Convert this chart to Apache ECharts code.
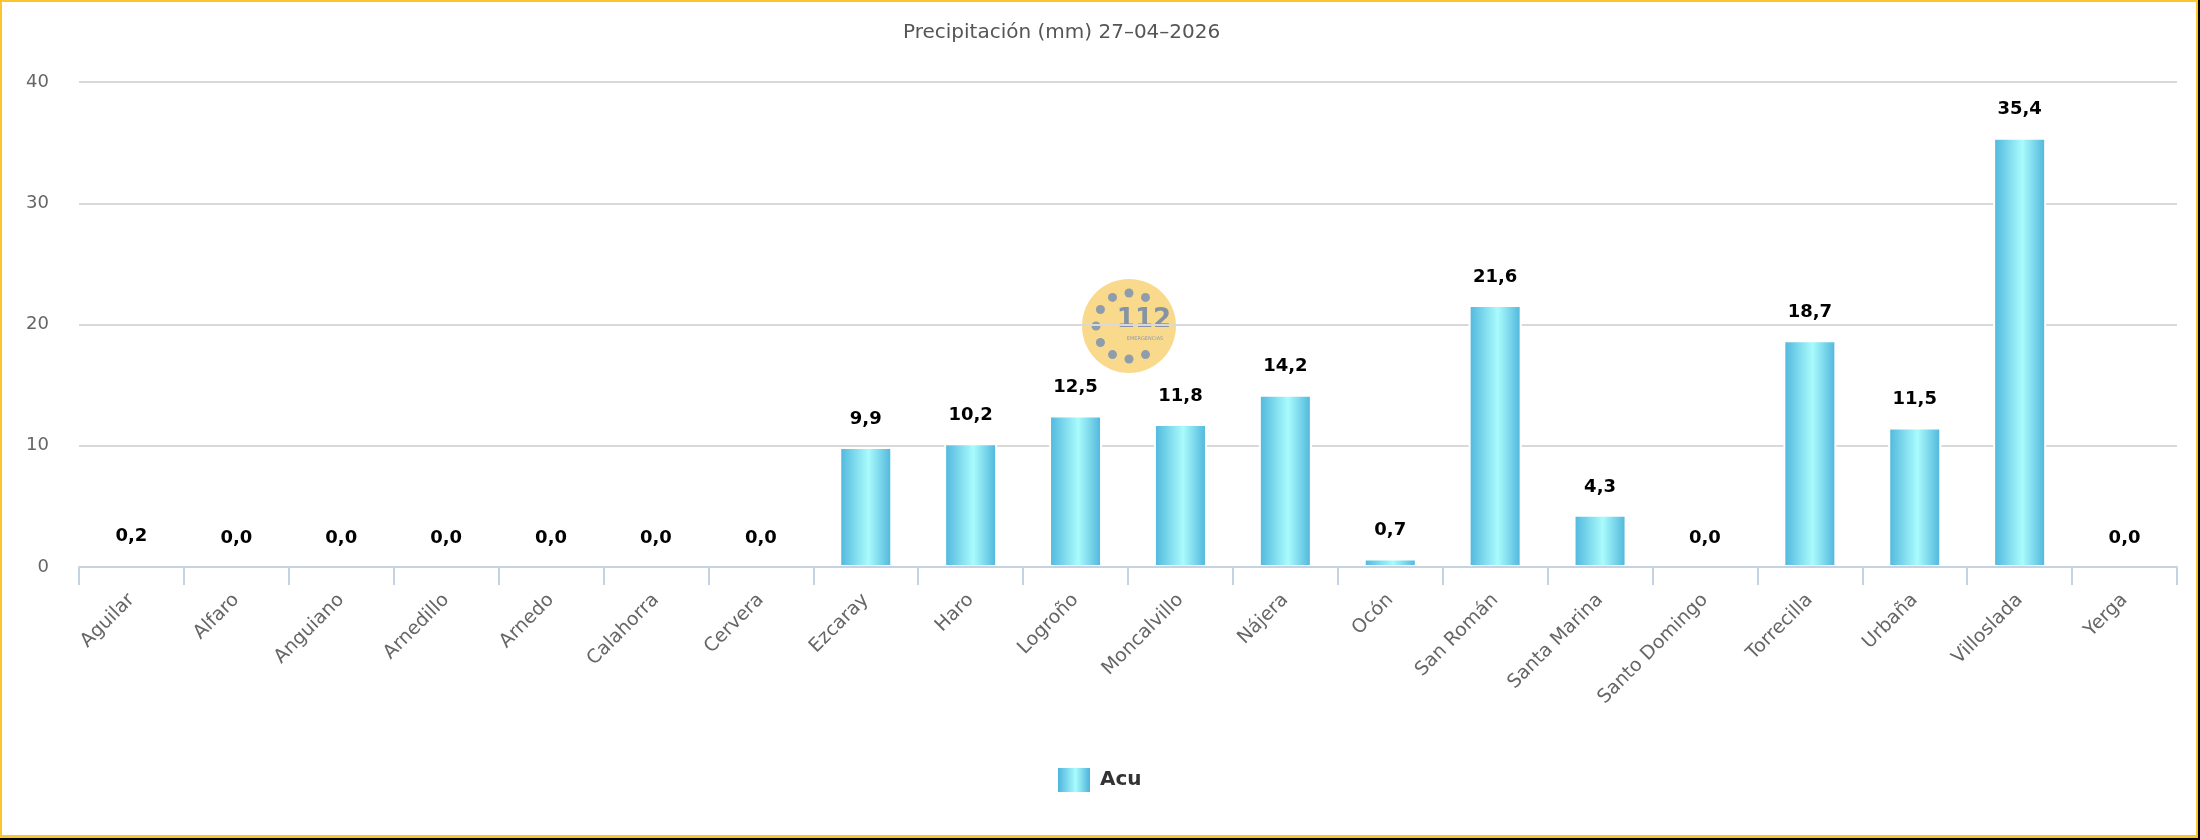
<!DOCTYPE html>
<html>
<head>
<meta charset="utf-8">
<script src="https://cdn.jsdelivr.net/npm/echarts@6/dist/echarts.min.js"></script>
<style>
    html, body { margin: 0; padding: 0; background: #000; }
    #precip-bar-chart {
        position: absolute; left: 0; top: 0;
        width: 2198px; height: 838px;
        box-sizing: border-box;
        border: 2px solid #fcc52d;
        border-bottom-width: 3px;
        background: #fff;
    }
</style>
</head>
<body>
<div id="precip-bar-chart"></div>
<script>
// datos de precipitación por estación
const stations = ['Aguilar', 'Alfaro', 'Anguiano', 'Arnedillo', 'Arnedo', 'Calahorra', 'Cervera',
    'Ezcaray', 'Haro', 'Logroño', 'Moncalvillo', 'Nájera', 'Ocón', 'San Román', 'Santa Marina',
    'Santo Domingo', 'Torrecilla', 'Urbaña', 'Villoslada', 'Yerga'];
const acuValues = [0.2, 0.0, 0.0, 0.0, 0.0, 0.0, 0.0, 9.9, 10.2, 12.5, 11.8, 14.2, 0.7, 21.6, 4.3,
    0.0, 18.7, 11.5, 35.4, 0.0];
const yTicks = [0, 10, 20, 30, 40];

const precipChart = echarts.init(document.getElementById('precip-bar-chart'));

const FONT = 'DejaVu Sans';

const barColor = new echarts.graphic.LinearGradient(0, 0, 1, 0, [
    {offset: 0, color: '#4db5dc'},
    {offset: 0.55, color: '#a9fbfc'},
    {offset: 1, color: '#4cb3da'}
]);

// logo 112 de fondo (marca de agua)
const logoX = 1127, logoY = 324;
const logoParts = [{
    type: 'circle',
    shape: {cx: logoX, cy: logoY, r: 47},
    style: {fill: '#f9da8d'},
    z: -10
}];
[-90, -120, -60, -150, 180, 150, 120, 90, 60].forEach(function (a) {
    const rad = a * Math.PI / 180;
    logoParts.push({
        type: 'circle',
        shape: {cx: logoX + 33 * Math.cos(rad), cy: logoY + 33 * Math.sin(rad), r: 4.5},
        style: {fill: '#8f9cab'},
        z: -9
    });
});
logoParts.push({
    type: 'text', x: logoX + 15, y: logoY - 6, z: -9,
    style: {text: '112', fill: '#8593a3', font: 'bold 26px ' + FONT, align: 'center', verticalAlign: 'middle'}
});
logoParts.push({
    type: 'text', x: logoX + 16, y: logoY + 13, z: -9,
    style: {text: 'EMERGENCIAS', fill: '#8f9cab', font: '5px ' + FONT, align: 'center', verticalAlign: 'middle'}
});

const option = {
    animation: false,
    textStyle: {fontFamily: FONT},
    title: {
        text: 'Precipitación (mm) 27–04–2026',
        left: 896,
        top: 16,
        textStyle: {fontFamily: FONT, fontSize: 20, fontWeight: 'normal', color: '#555'}
    },
    legend: {
        left: 1051,
        top: 761,
        itemWidth: 32,
        itemHeight: 24,
        icon: 'rect',
        itemStyle: {borderWidth: 0},
        textStyle: {fontFamily: FONT, fontSize: 20, fontWeight: 'bold', color: '#333', padding: [0, 0, 0, 5]}
    },
    grid: {left: 77, right: 19, top: 80, bottom: 268},
    xAxis: {
        type: 'category',
        data: stations,
        z: 5,
        axisLine: {lineStyle: {color: '#c4d2e2', width: 2}},
        axisTick: {show: true, alignWithLabel: false, length: 18, lineStyle: {color: '#c4d2e2', width: 2}},
        axisLabel: {rotate: 45, margin: 30, fontSize: 19, color: '#666', fontFamily: FONT}
    },
    yAxis: {
        type: 'value',
        min: yTicks[0],
        max: yTicks[yTicks.length - 1],
        interval: 10,
        axisLabel: {margin: 30, fontSize: 18, color: '#666', fontFamily: FONT},
        splitLine: {lineStyle: {color: '#d9d9d9', width: 2}}
    },
    graphic: logoParts,
    series: [{
        name: 'Acu',
        type: 'bar',
        data: acuValues,
        barWidth: 53,
        itemStyle: {color: barColor, borderColor: '#fff', borderWidth: 2},
        label: {
            show: true,
            position: 'top',
            distance: 19,
            fontFamily: FONT,
            fontSize: 18,
            fontWeight: 'bold',
            color: '#000',
            formatter: function (p) {
                return p.value.toFixed(1).replace('.', ',');
            }
        }
    }]
};

precipChart.setOption(option);
</script>
</body>
</html>
